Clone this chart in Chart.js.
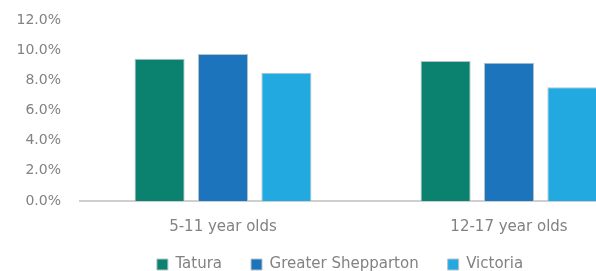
<!DOCTYPE html>
<html>
<head>
<meta charset="utf-8">
<script src="https://cdn.jsdelivr.net/npm/chart.js@4/dist/chart.umd.min.js"></script>
<style>
  html, body { margin: 0; padding: 0; background: #fff; overflow: hidden; }
  #wrap { position: relative; width: 680px; height: 271px; }
</style>
</head>
<body>
<div id="wrap"><canvas id="chart"></canvas></div>
<script>
const categories = ['5-11 year olds', '12-17 year olds'];
const tatura = [9.43, 9.28];
const greaterShepparton = [9.75, 9.17];
const victoria = [8.5, 7.54];
const seriesNames = ['Tatura', 'Greater Shepparton', 'Victoria'];

const COLORS = ['#0b826f', '#1b74bc', '#22a9df'];
const TEXT = '#828282';
const FONT = 'DejaVu Sans';

// legend box: fixed height, then its top nudged up/right to where the original puts the row
const legendPlace = {
  id: 'legendPlace',
  beforeInit(chart) {
    const origFit = chart.legend.fit;
    chart.legend.fit = function () {
      origFit.call(this);
      this.height = 34;
    };
  },
  afterLayout(chart) {
    const lg = chart.legend;
    lg.top -= 9;
    lg.left += 14;
    lg.right += 14;
  }
};

new Chart(document.getElementById('chart'), {
  type: 'bar',
  data: {
    labels: categories,
    datasets: [tatura, greaterShepparton, victoria].map((d, i) => ({
      label: seriesNames[i],
      data: d,
      backgroundColor: COLORS[i],
      borderColor: '#b8c2c6',
      borderWidth: 1,
      categoryPercentage: 0.665,
      barPercentage: 0.79
    }))
  },
  options: {
    responsive: true,
    maintainAspectRatio: false,
    animation: false,
    layout: { padding: { left: 0, right: 28, top: 20, bottom: 0 } },
    plugins: {
      legend: {
        position: 'bottom',
        labels: {
          boxWidth: 11,
          boxHeight: 11,
          padding: 29,
          color: TEXT,
          font: { family: FONT, size: 15 }
        }
      },
      tooltip: { enabled: false }
    },
    scales: {
      x: {
        grid: { display: false, drawTicks: false },
        border: { color: '#cfcfcf', width: 2 },
        ticks: { color: TEXT, padding: 17, font: { family: FONT, size: 15 } },
        afterFit(scale) { scale.height = 36; }
      },
      y: {
        min: 0,
        max: 12,
        grid: { display: false, drawTicks: false },
        border: { display: false },
        ticks: {
          stepSize: 2,
          color: TEXT,
          padding: 19,
          font: { family: FONT, size: 14 },
          callback: v => v.toFixed(1) + '%'
        },
        afterFit(scale) { scale.width = 80; scale.paddingTop = 0; scale.paddingBottom = 0; }
      }
    }
  },
  plugins: [legendPlace]
});
</script>
</body>
</html>
